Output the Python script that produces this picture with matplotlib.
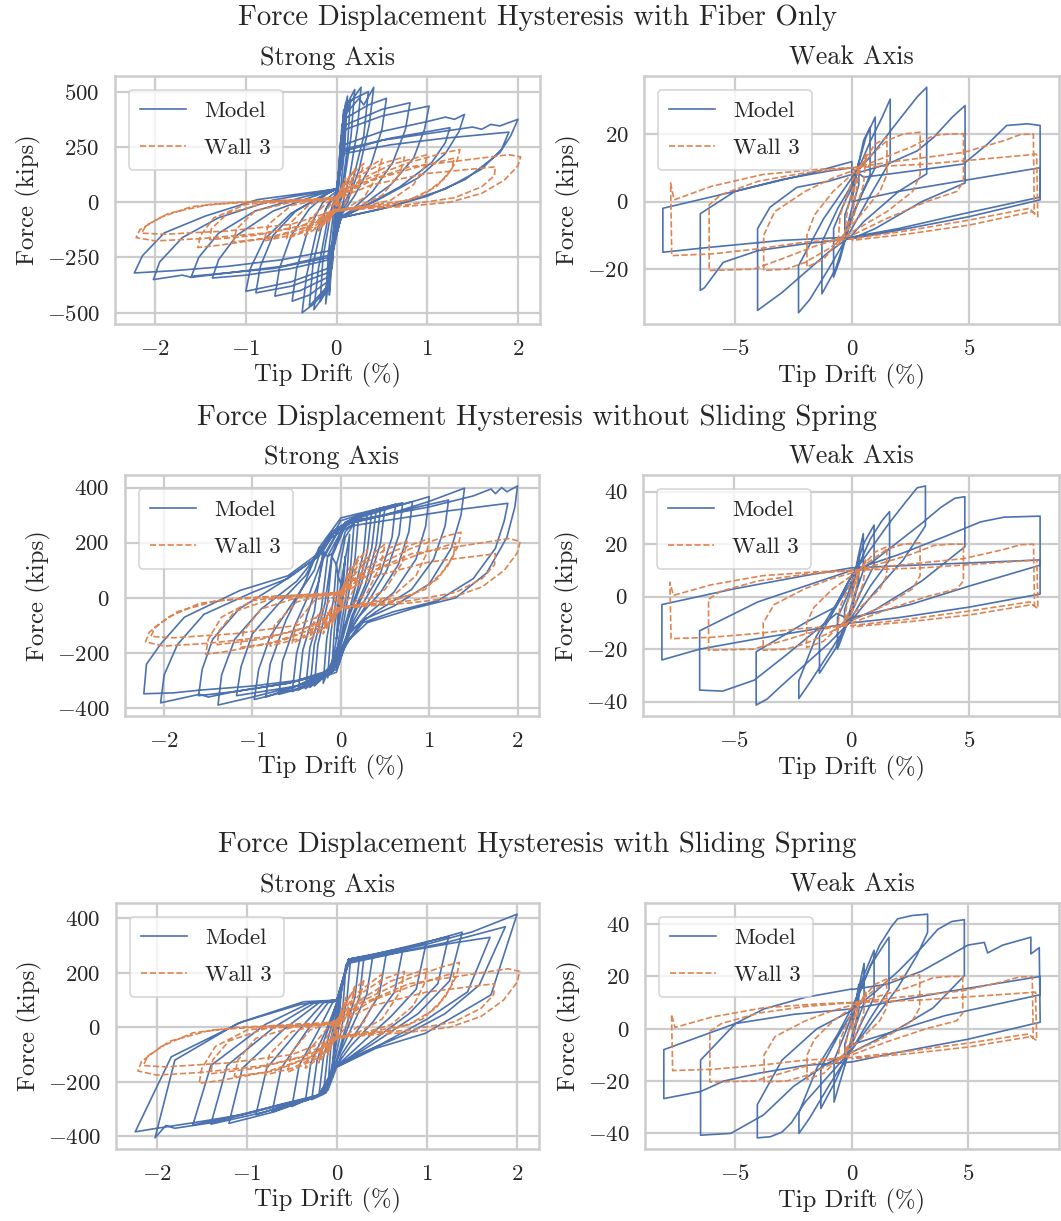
import numpy as np
import matplotlib
matplotlib.use("Agg")
import matplotlib.pyplot as plt
from matplotlib.ticker import MultipleLocator

# ---- data (tip drift in %, force in kips) ----
# each curve is a list of cycles, each cycle a list of (drift, force) vertices

# test data, the same in all three rows
wall3_strong = [
    [(0, 0), (0.05, 60), (0.03, 20), (0, -10), (-0.05, -60), (-0.03, -20), (0, 10)],
    [(0, 10), (0.1, 110), (0.07, 50), (0, -20), (-0.1, -100), (-0.07, -40), (0, 20)],
    [(0, 20), (0.2, 150), (0.15, 80), (0.05, 0), (0, -30), (-0.2, -130), (-0.15, -60), (-0.05, 0), (0, 25)],
    [(0, 25), (0.15, 120), (0.3, 175), (0.25, 100), (0.1, 0), (0, -35), (-0.15, -100), (-0.35, -150),
     (-0.3, -80), (-0.1, 0), (0, 25)],
    [(0, 25), (0.2, 120), (0.5, 195), (0.45, 120), (0.3, 20), (0.1, -30), (0, -40), (-0.2, -110),
     (-0.55, -165), (-0.5, -90), (-0.3, -10), (0, 25)],
    [(0, 25), (0.25, 120), (0.5, 175), (0.75, 205), (0.7, 130), (0.5, 30), (0.2, -25), (0, -40),
     (-0.25, -110), (-0.5, -150), (-0.8, -175), (-0.75, -100), (-0.5, -15), (-0.2, 10), (0, 25)],
    [(0, 25), (0.3, 110), (0.6, 170), (1.0, 215), (0.97, 160), (0.85, 80), (0.6, 10), (0.3, -20), (0, -35),
     (-0.3, -110), (-0.7, -160), (-1.14, -180), (-1.1, -120), (-0.9, -40), (-0.5, 0), (0, 20)],
    [(0, 20), (0.3, 100), (0.8, 180), (1.2, 225), (1.36, 238), (1.33, 190), (1.2, 110), (0.95, 30),
     (0.6, -10), (0.2, -30), (0, -40), (-0.3, -110), (-0.8, -165), (-1.3, -195), (-1.53, -205),
     (-1.5, -150), (-1.35, -70), (-1.0, -10), (-0.5, 10), (0, 20)],
    [(0, 20), (0.4, 100), (0.9, 160), (1.3, 200), (1.27, 150), (1.1, 70), (0.8, 10), (0.3, -20), (0, -35),
     (-0.4, -110), (-0.9, -150), (-1.4, -170), (-1.38, -120), (-1.2, -50), (-0.8, -5), (0, 15)],
    [(0, 15), (0.3, 90), (0.8, 160), (1.5, 195), (1.9, 215), (2.03, 205), (2.0, 165), (1.85, 100),
     (1.6, 40), (1.25, 0), (0.8, -18), (0.3, -30), (0, -40), (-0.3, -100), (-0.8, -140), (-1.5, -165),
     (-2.0, -175), (-2.21, -160), (-2.17, -125), (-1.95, -70), (-1.6, -20), (-1.1, 0), (-0.5, 10), (0, 15)],
    [(0, 15), (0.4, 80), (1.0, 130), (1.5, 150), (1.75, 160), (1.74, 120), (1.6, 70), (1.3, 20),
     (0.8, -10), (0.3, -25), (0, -35), (-0.5, -100), (-1.2, -130), (-1.9, -145), (-2.15, -140),
     (-2.1, -105), (-1.85, -50), (-1.4, -10), (-0.7, 5), (0, 10)],
]

wall3_weak = [
    [(0, 0), (0.3, 10), (0.2, 3), (0, -4), (-0.3, -9), (-0.2, -3), (0, 3)],
    [(0, 3), (0.6, 14), (0.5, 5), (0, -6), (-0.6, -13), (-0.5, -4), (0, 6)],
    [(0, 6), (0.5, 12), (1.0, 17), (1.5, 19), (1.5, 8), (1.2, 3), (0.5, -3), (0, -7), (-0.5, -11),
     (-1.2, -17), (-1.92, -19.4), (-1.92, -10), (-1.6, -4), (-0.8, 3), (0, 8)],
    [(0, 8), (0.7, 13), (1.5, 18), (2.2, 20), (2.92, 20.5), (2.92, 8), (2.6, 3), (1.5, -3), (0.5, -7),
     (0, -9), (-1.0, -14), (-2.0, -18), (-2.8, -20), (-3.77, -20.4), (-3.77, -10), (-3.3, -3),
     (-2.0, 3), (-0.8, 7), (0, 9)],
    [(0, 9), (1.0, 12), (2.5, 16), (3.5, 19.5), (4.2, 20), (4.77, 20), (4.77, 6), (4.5, 3), (3.2, 0),
     (1.5, -5), (0, -10), (-1.5, -13), (-3.0, -17), (-4.2, -20), (-6.1, -20.4), (-6.1, -1), (-5.6, 2),
     (-4.0, 6), (-2.0, 8.5), (0, 10)],
    [(0, 10), (2.0, 12), (4.77, 14.5), (6.5, 18), (7.2, 19.8), (7.76, 20), (7.8, -3.5), (7.6, -2),
     (5.0, -5.5), (2.5, -8.5), (0, -11), (-2.0, -12), (-4.0, -14), (-6.0, -15.5), (-7.7, -16),
     (-7.75, 5.5), (-7.6, 0.5), (-6.0, 4.5), (-3.8, 8), (-1.5, 9.5), (0, 10)],
    [(0, 10), (3.0, 11), (5.5, 12.5), (7.9, 14), (7.95, -4.5), (7.7, -3), (5.0, -7), (2.5, -9.5),
     (0, -11.5)],
]

# model, fiber only
fiber_strong = [
    [(0, 0), (0.05, 300), (0.03, 120), (0, -10), (-0.05, -300), (-0.03, -120), (0, 0)],
    [(0, 10), (0.08, 420), (0.05, 180), (0, -20), (-0.08, -420), (-0.05, -180), (0, 10)],
    [(0, 20), (0.08, 400), (0.12, 480), (0.09, 250), (0.03, 0), (-0.05, -250), (-0.12, -460),
     (-0.09, -230), (-0.02, 0), (0, 20)],
    [(0, 30), (0.06, 350), (0.15, 450), (0.12, 250), (0.05, 20), (0, -40), (-0.08, -350), (-0.18, -450),
     (-0.15, -250), (-0.05, -20), (0, 30)],
    [(0, 30), (0.1, 430), (0.2, 510), (0.16, 300), (0.08, 80), (0.02, -40), (-0.1, -400), (-0.25, -486),
     (-0.2, -300), (-0.1, -80), (0, 30)],
    [(0, 40), (0.1, 420), (0.2, 480), (0.27, 520), (0.23, 330), (0.15, 130), (0.06, -20), (0, -60),
     (-0.12, -400), (-0.25, -460), (-0.38, -500), (-0.33, -330), (-0.22, -130), (-0.08, 0), (0, 40)],
    [(0, 40), (0.1, 450), (0.35, 500), (0.3, 300), (0.15, 50), (0.02, -60), (-0.1, -380), (-0.3, -470),
     (-0.26, -280), (-0.12, -30), (0, 40)],
    [(0, 50), (0.1, 400), (0.25, 470), (0.3, 440), (0.41, 520), (0.36, 350), (0.25, 150), (0.12, 0),
     (0.03, -60), (-0.1, -360), (-0.3, -420), (-0.49, -448), (-0.44, -300), (-0.32, -130), (-0.15, 0),
     (0, 50)],
    [(0, 60), (0.1, 380), (0.35, 440), (0.55, 470), (0.5, 330), (0.38, 170), (0.2, 30), (0.05, -60),
     (-0.1, -340), (-0.4, -400), (-0.68, -425), (-0.63, -300), (-0.5, -150), (-0.3, -30), (-0.1, 40), (0, 60)],
    [(0, 60), (0.1, 350), (0.5, 420), (0.81, 450), (0.76, 330), (0.62, 180), (0.4, 50), (0.15, -40),
     (0.03, -70), (-0.1, -320), (-0.5, -380), (-0.89, -410), (-0.84, -290), (-0.7, -150), (-0.45, -40),
     (-0.15, 30), (0, 60)],
    [(0, 60), (0.1, 330), (0.5, 390), (1.02, 435), (0.97, 330), (0.85, 200), (0.6, 80), (0.3, -10),
     (0.05, -70), (-0.1, -300), (-0.5, -360), (-1.0, -403), (-0.95, -300), (-0.8, -170), (-0.5, -50),
     (-0.2, 20), (0, 60)],
    [(0, 60), (0.08, 260), (0.5, 320), (1.0, 365), (1.2, 385), (1.3, 375), (1.41, 397), (1.35, 320),
     (1.2, 220), (0.9, 110), (0.5, 20), (0.05, -70), (-0.08, -260), (-0.5, -300), (-1.0, -330),
     (-1.37, -343), (-1.3, -260), (-1.1, -150), (-0.7, -40), (-0.3, 20), (0, 60)],
    [(0, 60), (0.08, 240), (0.6, 290), (1.25, 337), (1.2, 270), (1.05, 180), (0.7, 70), (0.3, -20),
     (0.05, -70), (-0.08, -250), (-0.7, -300), (-1.6, -335), (-1.52, -250), (-1.3, -140), (-0.9, -40),
     (-0.4, 20), (0, 60)],
    [(0, 60), (0.08, 230), (0.5, 280), (1.0, 310), (1.5, 340), (1.6, 330), (1.7, 352), (1.8, 345),
     (2.0, 375), (1.92, 300), (1.8, 224), (1.42, 103), (1.0, 27), (0.47, -33), (0.05, -70),
     (-0.08, -220), (-0.6, -260), (-1.2, -290), (-1.8, -310), (-2.23, -320), (-2.14, -242),
     (-1.9, -139), (-1.45, -63), (-0.87, 12), (0, 60)],
    [(0, 60), (0.08, 220), (0.6, 260), (1.2, 290), (1.9, 317), (1.82, 240), (1.6, 150), (1.2, 60),
     (0.6, -20), (0.05, -70), (-0.08, -240), (-0.6, -290), (-1.3, -325), (-1.6, -340), (-1.7, -330),
     (-2.02, -350), (-1.95, -270), (-1.7, -160), (-1.3, -70), (-0.7, 10), (0, 60)],
]

fiber_weak = [
    [(0, 0), (0.3, 12), (0.3, 5), (0, -2), (-0.3, -10), (-0.3, -4), (0, 2)],
    [(0, 2), (0.5, 18), (0.78, 22), (0.78, 8), (0.3, 0), (0, -4), (-0.5, -17), (-0.78, -22.4),
     (-0.78, -8), (-0.3, 0), (0, 4)],
    [(0, 4), (0.6, 19), (1.0, 25), (1.0, 10), (0.4, 2), (0, -5), (-0.7, -20), (-1.28, -27.3),
     (-1.28, -12), (-0.6, -2), (0, 5)],
    [(0, 5), (0.8, 18), (1.3, 25), (1.64, 30.3), (1.64, 12), (0.8, 2), (0, -8), (-1.0, -20),
     (-1.8, -29), (-2.28, -32.9), (-2.28, -19), (-1.2, -5), (0, 7)],
    [(0, 7), (1.0, 15), (2.0, 24), (2.8, 31), (3.2, 33.8), (3.2, 8.2), (2.0, 3), (0.5, -6), (0, -10),
     (-1.0, -15), (-2.0, -21), (-3.0, -27), (-4.03, -32.2), (-4.03, -8), (-3.5, -1.7), (-2.35, 4.2),
     (-1.0, 6), (0, 8)],
    [(0, 8), (1.5, 11), (2.8, 15), (3.5, 19), (4.3, 25), (4.84, 28.4), (4.84, 5.5), (3.0, 0), (1.0, -8),
     (0, -11), (-2.0, -12.5), (-4.0, -14.5), (-5.5, -18), (-6.3, -25.5), (-6.48, -26.3), (-6.48, -3.6),
     (-5.0, 3), (-3.0, 6.5), (-1.0, 9), (0, 10)],
    [(0, 10), (0.5, 7.2), (2.0, 8.5), (4.77, 11.1), (5.8, 17), (6.62, 22.5), (7.5, 23), (8.05, 22.5),
     (8.05, 1.3), (4.77, -3.6), (2.0, -8), (0, -10.5), (-3.0, -11.5), (-6.0, -13.5), (-8.08, -15),
     (-8.08, -2), (-5.0, 3), (-2.0, 8), (0, 11.8)],
    [(0, 0), (2.0, 3), (4.77, 6.2), (8.05, 10), (8.05, 0.5), (5.0, -4.5), (2.0, -8.5), (0, -11)],
]

# model, without sliding spring
noslide_strong = [
    [(0, 0), (0.05, 150), (0.03, 50), (0, -20), (-0.05, -150), (-0.03, -50), (0, 0)],
    [(0, 50), (0.1, 230), (0.07, 90), (0, -50), (-0.1, -250), (-0.07, -100), (0, 50)],
    [(-0.03, 80), (0.05, 220), (0.15, 270), (0.11, 110), (0.04, -30), (-0.05, -200), (-0.15, -290),
     (-0.11, -120), (-0.04, 20), (-0.03, 80)],
    [(-0.05, 120), (0.05, 240), (0.2, 290), (0.16, 140), (0.08, 0), (0, -150), (-0.2, -310),
     (-0.16, -150), (-0.08, 0), (-0.05, 120)],
    [(-0.1, 150), (0.05, 260), (0.3, 310), (0.26, 170), (0.15, 20), (0.03, -120), (-0.1, -260),
     (-0.3, -320), (-0.26, -170), (-0.15, -20), (-0.1, 150)],
    [(-0.1, 160), (0.05, 275), (0.35, 315), (0.3, 170), (0.18, 20), (0.05, -100), (-0.08, -250),
     (-0.35, -325), (-0.3, -170), (-0.18, -20), (-0.1, 160)],
    [(-0.15, 150), (0.05, 270), (0.4, 320), (0.35, 180), (0.22, 40), (0.08, -80), (-0.05, -230),
     (-0.4, -330), (-0.35, -180), (-0.22, -40), (-0.15, 150)],
    [(-0.2, 170), (0.0, 280), (0.45, 325), (0.4, 190), (0.28, 50), (0.12, -70), (-0.02, -240),
     (-0.48, -335), (-0.43, -190), (-0.3, -50), (-0.2, 170)],
    [(-0.2, 140), (0.0, 260), (0.25, 305), (0.5, 330), (0.45, 200), (0.32, 60), (0.15, -60), (0.0, -200),
     (-0.25, -300), (-0.55, -340), (-0.5, -200), (-0.38, -60), (-0.25, 60), (-0.2, 140)],
    [(-0.2, 150), (0.0, 260), (0.3, 310), (0.62, 340), (0.58, 220), (0.45, 90), (0.25, -20), (0.1, -110),
     (-0.05, -250), (-0.35, -320), (-0.7, -350), (-0.66, -230), (-0.52, -100), (-0.35, 20), (-0.2, 150)],
    [(-0.25, 180), (0.0, 290), (0.7, 345), (0.66, 230), (0.52, 100), (0.3, -20), (0.1, -120),
     (-0.05, -270), (-0.85, -360), (-0.8, -240), (-0.62, -80), (-0.4, 60), (-0.25, 180)],
    [(-0.25, 150), (-0.05, 250), (0.2, 300), (0.81, 349), (0.77, 240), (0.65, 120), (0.45, 20),
     (0.2, -70), (0.05, -150), (-0.1, -270), (-0.5, -330), (-0.98, -369), (-0.93, -260), (-0.8, -140),
     (-0.55, -20), (-0.3, 100), (-0.25, 150)],
    [(-0.3, 140), (-0.1, 240), (0.1, 280), (0.5, 320), (1.0, 367), (0.96, 260), (0.85, 140), (0.6, 20),
     (0.3, -60), (0.1, -130), (-0.05, -260), (-0.5, -320), (-1.18, -355), (-1.13, -250), (-1.0, -130),
     (-0.7, -20), (-0.4, 80), (-0.3, 140)],
    [(-0.3, 140), (-0.1, 230), (0.1, 270), (0.6, 310), (1.22, 355), (1.18, 260), (1.05, 140), (0.8, 30),
     (0.4, -50), (0.1, -120), (-0.05, -250), (-0.5, -320), (-1.0, -360), (-1.39, -389), (-1.35, -280),
     (-1.2, -150), (-0.9, -40), (-0.5, 60), (-0.3, 140)],
    [(-0.3, 140), (-0.1, 230), (0.1, 270), (0.5, 300), (1.0, 350), (1.4, 398), (1.36, 300), (1.25, 180),
     (1.0, 50), (0.6, -30), (0.25, -80), (0.05, -170), (-0.1, -270), (-0.6, -310), (-1.2, -340),
     (-1.61, -355), (-1.57, -260), (-1.45, -150), (-1.15, -40), (-0.7, 50), (-0.3, 140)],
    [(-0.3, 140), (-0.1, 220), (0.1, 260), (0.6, 285), (1.2, 315), (1.89, 343), (1.85, 280), (1.75, 180),
     (1.5, 70), (1.1, -10), (0.6, -50), (0.25, -90), (0.05, -170), (-0.1, -270), (-0.6, -310),
     (-1.2, -340), (-1.5, -360), (-1.6, -350), (-2.04, -381), (-2.0, -280), (-1.85, -170), (-1.55, -60),
     (-1.0, 20), (-0.6, 70), (-0.3, 140)],
    [(-0.3, 150), (-0.1, 230), (0.1, 280), (0.5, 300), (1.0, 330), (1.5, 370), (1.7, 395), (1.75, 378),
     (1.82, 400), (1.88, 385), (2.0, 406), (1.97, 330), (1.88, 220), (1.65, 90), (1.3, 0), (0.8, -40),
     (0.3, -90), (0.1, -150), (-0.1, -260), (-0.5, -300), (-1.0, -320), (-1.6, -335), (-1.9, -345),
     (-2.23, -348), (-2.2, -241), (-2.04, -168), (-1.77, -70), (-1.14, 27), (-0.6, 80), (-0.3, 150)],
]

noslide_weak = [
    [(0, 0), (0.3, 15), (0.3, 6), (0, -3), (-0.3, -12), (-0.3, -5), (0, 3)],
    [(0, 3), (0.3, 16), (0.5, 24), (0.5, 10), (0.2, 2), (0, -5), (-0.3, -13), (-0.6, -20), (-0.6, -8),
     (-0.2, 0), (0, 5)],
    [(0, 5), (0.5, 20), (0.96, 27.3), (0.96, 12), (0.4, 2), (0, -6), (-0.7, -20), (-1.37, -29.2),
     (-1.37, -15), (-0.6, -3), (0, 6)],
    [(0, 6), (0.8, 22), (1.3, 29), (1.62, 32.4), (1.62, 14), (0.8, 4), (0, -8), (-1.0, -22), (-1.8, -33),
     (-2.25, -38.8), (-2.25, -32), (-1.5, -15), (-0.6, -2), (0, 8)],
    [(0, 8), (0.8, 18), (1.6, 28), (2.3, 36), (2.8, 41.5), (3.15, 42.2), (3.15, 27), (2.2, 14), (1.0, 2),
     (0, -9), (-1.0, -18), (-2.0, -26), (-3.0, -34), (-3.6, -39), (-4.07, -41.3), (-4.07, -21),
     (-2.0, -10), (-0.7, -4), (0, 8)],
    [(0, 8), (1.0, 14), (2.0, 21), (3.0, 28), (3.8, 34), (4.4, 37.5), (4.83, 38.1), (4.83, 19), (3.0, 6),
     (1.0, -5), (0, -9), (-0.64, -6.4), (-2.7, -21.6), (-4.15, -31.8), (-5.5, -36), (-6.48, -35.6),
     (-6.48, -13), (-4.0, -2), (-2.0, 4), (0, 10)],
    [(0, 10), (2.0, 16), (4.0, 23), (5.5, 28.5), (6.5, 30.3), (8.04, 30.7), (8.04, 1), (5.0, -4),
     (2.0, -8), (0, -10), (-2.0, -13), (-4.0, -16), (-6.48, -20), (-8.09, -24.1), (-8.09, -3),
     (-5.0, 3), (-2.0, 8), (0, 11)],
    [(0, 11), (4.0, 12.5), (8.04, 14), (8.04, 12), (5.0, 4), (2.5, -3), (0, -8)],
]

# model, with sliding spring
slide_strong = [
    [(0, 0), (0.05, 150), (0.03, 50), (0, -20), (-0.05, -150), (-0.03, -50), (0, 0)],
    [(0, 30), (0.1, 230), (0.07, 90), (0, -40), (-0.1, -220), (-0.07, -80), (0, 30)],
    [(0, 60), (0.1, 220), (0.15, 245), (0.11, 100), (0.03, -40), (-0.08, -200), (-0.15, -240),
     (-0.1, -90), (-0.02, 30), (0, 60)],
    [(0, 80), (0.12, 240), (0.25, 255), (0.2, 110), (0.07, -30), (-0.05, -180), (-0.2, -250),
     (-0.15, -110), (-0.05, 20), (0, 80)],
    [(0, 95), (0.13, 248), (0.3, 258), (0.25, 110), (0.1, -20), (-0.03, -150), (-0.15, -245),
     (-0.28, -265), (-0.22, -120), (-0.08, 10), (0, 95)],
    [(0, 90), (0.13, 245), (0.4, 265), (0.33, 120), (0.15, -10), (0, -120), (-0.12, -240), (-0.35, -270),
     (-0.29, -130), (-0.12, -10), (0, 90)],
    [(0, 100), (0.13, 250), (0.55, 275), (0.47, 120), (0.25, 0), (0.05, -100), (-0.1, -230), (-0.5, -290),
     (-0.42, -140), (-0.22, -20), (-0.05, 90), (0, 100)],
    [(0, 100), (0.13, 250), (0.4, 265), (0.73, 284), (0.64, 130), (0.4, 20), (0.15, -70), (-0.03, -150),
     (-0.2, -250), (-0.5, -285), (-0.72, -310), (-0.62, -150), (-0.35, -20), (-0.1, 90), (0, 100)],
    [(0, 100), (0.13, 250), (0.5, 275), (0.99, 308), (0.88, 140), (0.6, 40), (0.3, -50), (-0.03, -150),
     (-0.2, -250), (-0.6, -290), (-0.9, -320), (-0.78, -150), (-0.45, -20), (-0.15, 90), (0, 100)],
    [(0, 100), (0.13, 245), (0.7, 290), (1.24, 333), (1.12, 160), (0.8, 50), (0.35, -60), (-0.03, -150),
     (-0.2, -250), (-0.7, -310), (-1.2, -352), (-1.05, -150), (-0.6, -10), (-0.2, 90), (0, 100)],
    [(0, 100), (0.13, 245), (0.7, 285), (1.39, 349), (1.25, 170), (0.9, 50), (0.4, -60), (-0.03, -150),
     (-0.2, -250), (-0.8, -310), (-1.4, -355), (-1.22, -140), (-0.7, 0), (-0.25, 90), (0, 100)],
    [(0, 100), (0.13, 240), (0.6, 270), (1.2, 310), (1.87, 369), (1.58, 155), (1.2, 50), (0.8, -20),
     (0.3, -90), (-0.03, -150), (-0.2, -250), (-0.7, -290), (-1.2, -330), (-1.6, -358), (-1.4, -140),
     (-0.8, 10), (-0.3, 90), (0, 100)],
    [(0, 100), (0.13, 235), (0.7, 275), (1.3, 310), (1.7, 330), (1.45, 130), (1.0, 30), (0.5, -60),
     (-0.03, -150), (-0.2, -250), (-0.8, -300), (-1.4, -350), (-1.8, -370), (-1.9, -360), (-2.02, -405),
     (-1.8, -120), (-1.1, 15), (-0.4, 85), (0, 100)],
    [(0, 100), (0.13, 240), (0.6, 275), (1.0, 305), (1.5, 350), (2.0, 415), (1.71, 119), (1.3, 40),
     (0.98, -22), (0.43, -77), (-0.03, -150), (-0.2, -248), (-0.6, -280), (-1.05, -320), (-1.6, -350),
     (-2.0, -370), (-2.24, -383), (-1.84, -108), (-1.05, 21), (-0.37, 94), (0, 100)],
]

slide_weak = [
    [(0, 0), (0.3, 17), (0.3, 7), (0, -3), (-0.3, -14), (-0.3, -6), (0, 3)],
    [(0, 3), (0.53, 25), (0.53, 10), (0.2, 2), (0, -5), (-0.76, -28), (-0.76, -12), (-0.3, -2), (0, 5)],
    [(0, 5), (0.5, 20), (0.96, 30), (0.96, 12), (0.4, 2), (0, -6), (-0.7, -20), (-1.33, -30.5),
     (-1.33, -15), (-0.6, -3), (0, 6)],
    [(0, 6), (0.8, 24), (1.3, 31), (1.6, 35), (1.6, 15), (0.8, 4), (0, -8), (-1.0, -22), (-1.8, -34),
     (-2.27, -40), (-2.27, -32), (-1.5, -15), (-0.6, -2), (0, 8)],
    [(0, 8), (0.6, 20), (1.2, 32), (1.7, 39), (1.97, 42), (2.6, 43.3), (3.26, 43.8), (3.26, 36.8),
     (2.8, 28), (2.0, 16), (1.0, 4), (0, -8), (-1.0, -18), (-2.0, -28), (-2.6, -36), (-3.0, -39.5),
     (-3.5, -41.3), (-4.06, -41.7), (-4.06, -29), (-3.0, -12), (-1.5, 0), (0, 7)],
    [(0, 7), (1.0, 14), (2.0, 22), (3.0, 31), (3.7, 38), (4.3, 41), (4.84, 41.7), (4.84, 20.3),
     (3.5, 8), (2.0, 0), (0, -9), (-1.0, -13), (-2.5, -22), (-3.8, -33), (-5.2, -40), (-6.5, -40.7),
     (-6.5, -12), (-5.0, 2), (-3.77, 7.6), (-2.0, 12), (0, 15.2)],
    [(0, 15), (1.5, 17), (3.0, 22), (4.2, 28), (5.0, 32), (5.7, 33), (5.84, 29), (6.5, 32), (7.7, 35),
     (7.7, 28.6), (8.06, 31), (8.1, 2.5), (5.0, -4), (2.0, -9), (0, -12.7), (-2.0, -14), (-4.0, -17),
     (-5.5, -20), (-6.5, -24), (-8.08, -26.7), (-8.08, -8), (-5.0, 2), (-2.5, 5.5), (0, 7.6)],
    [(0, 7.6), (4.0, 14), (8.1, 20), (8.1, 13), (4.0, 5), (0, -6)],
]

row_titles = ["Force Displacement Hysteresis with Fiber Only",
              "Force Displacement Hysteresis without Sliding Spring",
              "Force Displacement Hysteresis with Sliding Spring"]
models = [(fiber_strong, fiber_weak), (noslide_strong, noslide_weak), (slide_strong, slide_weak)]

# ---- style ----
plt.rcParams.update({
    "font.family": "serif",
    "font.serif": ["cmr10", "DejaVu Serif"],
    "mathtext.fontset": "cm",
    "axes.formatter.use_mathtext": True,
    "axes.unicode_minus": True,
    "axes.facecolor": "white",
    "axes.edgecolor": "0.8",
    "axes.linewidth": 1.8,
    "axes.grid": True,
    "grid.color": "0.8",
    "grid.linewidth": 1.6,
    "xtick.major.size": 0,
    "ytick.major.size": 0,
    "xtick.color": "0.15",
    "ytick.color": "0.15",
    "text.color": "0.15",
    "axes.labelcolor": "0.15",
})
BLUE = "#4C72B0"
ORANGE = "#DD8452"
FS = 16.5        # ticks, legend
LFS = 17.8       # axis labels
TFS = 18.8       # subplot titles
SFS = 20.8       # row titles

W, H = 1061, 1221
fig = plt.figure(figsize=(W / 100, H / 100), dpi=100)


def box(x0, x1, ytop, ybot):
    return [x0 / W, 1 - ybot / H, (x1 - x0) / W, (ybot - ytop) / H]


boxes = [
    (box(115, 540, 76, 324), box(644, 1059, 76, 324)),
    (box(125, 539, 475, 716), box(643, 1059, 475, 716)),
    (box(116, 539, 903, 1149), box(645, 1059, 903, 1149)),
]
title_y = [18, 418, 845]
ystep_strong = [250, 200, 200]
ystep_weak = [20, 20, 20]


def flat(cycles):
    pts = np.array([p for c in cycles for p in c], dtype=float)
    return pts[:, 0], pts[:, 1]


for r in range(3):
    fig.text(537 / W, 1 - title_y[r] / H, row_titles[r], ha="center", va="center", fontsize=SFS)
    for c, (name, test) in enumerate([("Strong Axis", wall3_strong), ("Weak Axis", wall3_weak)]):
        ax = fig.add_axes(boxes[r][c])
        mx, my = flat(models[r][c])
        tx, ty = flat(test)
        ax.plot(mx, my, color=BLUE, lw=1.2, label="Model")
        ax.plot(tx, ty, color=ORANGE, lw=1.2, ls="--", label="Wall 3")
        ax.set_title(name, fontsize=TFS, pad=8)
        ax.set_xlabel("Tip Drift (%)", fontsize=LFS, labelpad=3)
        ax.set_ylabel("Force (kips)", fontsize=LFS, labelpad=4)
        ax.tick_params(labelsize=FS, pad=11)
        if c == 0:
            ax.xaxis.set_major_locator(MultipleLocator(1))
            ax.yaxis.set_major_locator(MultipleLocator(ystep_strong[r]))
        else:
            ax.xaxis.set_major_locator(MultipleLocator(5))
            ax.yaxis.set_major_locator(MultipleLocator(ystep_weak[r]))
        ax.set_axisbelow(True)
        leg = ax.legend(loc="upper left", fontsize=FS, frameon=True, fancybox=True,
                        edgecolor="0.8", framealpha=0.8, borderpad=0.5, labelspacing=0.75,
                        borderaxespad=0.6)
        leg.get_frame().set_linewidth(1.2)

fig.savefig("out.png", dpi=100)
